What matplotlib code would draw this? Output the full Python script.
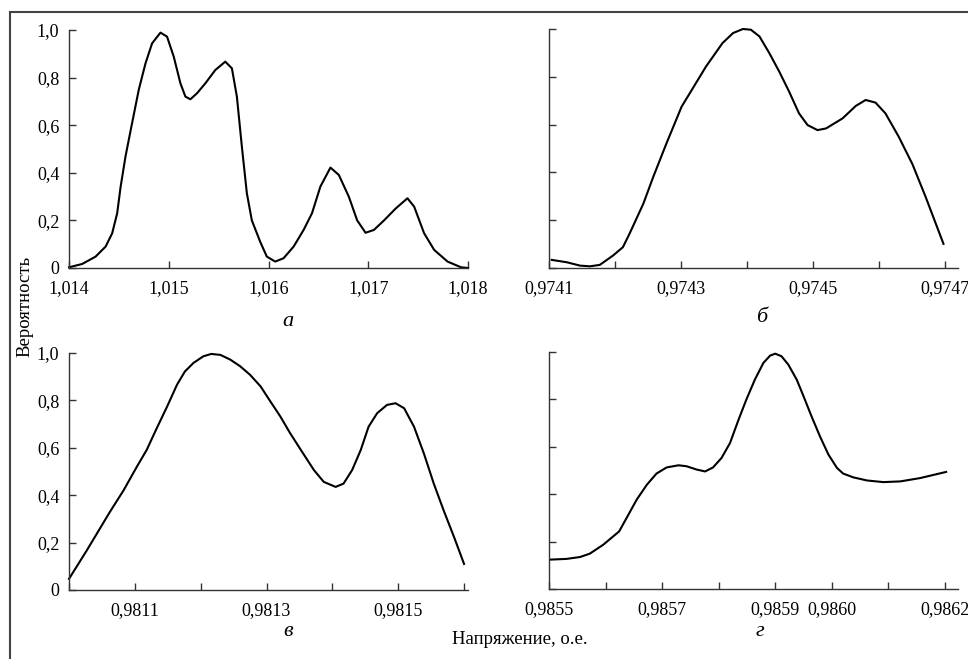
import matplotlib
matplotlib.use("Agg")
import matplotlib.pyplot as plt
from matplotlib.patches import Rectangle

plt.rcParams["font.family"] = "serif"
plt.rcParams["font.serif"] = ["Liberation Serif", "DejaVu Serif"]
plt.rcParams["font.size"] = 12.5

# panel a
x_a = [1.01400, 1.014133, 1.014267, 1.014367, 1.014433, 1.014483, 1.014517, 1.014567,
       1.014633, 1.014700, 1.014767, 1.014833, 1.014917, 1.014983, 1.015050, 1.015117,
       1.015167, 1.015217, 1.015283, 1.015367, 1.015467, 1.015567, 1.015633, 1.015683,
       1.015733, 1.015783, 1.015833, 1.015917, 1.015983, 1.016067, 1.016151, 1.016252,
       1.016352, 1.016436, 1.016520, 1.016621, 1.016705, 1.016805, 1.016889, 1.016973,
       1.017057, 1.017158, 1.017275, 1.017393, 1.017460, 1.017560, 1.017661, 1.017795,
       1.017930, 1.018]
y_a = [0.003, 0.017, 0.048, 0.09, 0.146, 0.23, 0.34, 0.47,
       0.61, 0.75, 0.86, 0.944, 0.989, 0.972, 0.888, 0.776,
       0.72, 0.709, 0.734, 0.776, 0.832, 0.867, 0.839, 0.72,
       0.51, 0.314, 0.20, 0.11, 0.048, 0.027, 0.041, 0.09,
       0.16, 0.23, 0.342, 0.422, 0.391, 0.30, 0.20, 0.148,
       0.16, 0.20, 0.25, 0.293, 0.258, 0.146, 0.076, 0.027,
       0.003, 0.0]

# panel б
x_b = [0.974104, 0.974127, 0.974147, 0.974162, 0.974177, 0.974197, 0.974212, 0.974222,
       0.974243, 0.974258, 0.974278, 0.974301, 0.974318, 0.974338, 0.974363, 0.974379,
       0.974394, 0.974406, 0.974419, 0.974434, 0.974449, 0.974464, 0.974479, 0.974492,
       0.974507, 0.974520, 0.974545, 0.974565, 0.974580, 0.974595, 0.974610, 0.974630,
       0.974651, 0.974671, 0.974698]
y_b = [0.034, 0.024, 0.010, 0.007, 0.013, 0.052, 0.087, 0.143,
       0.269, 0.381, 0.521, 0.675, 0.752, 0.843, 0.941, 0.983,
       1.0, 0.997, 0.969, 0.899, 0.822, 0.738, 0.647, 0.598,
       0.577, 0.584, 0.626, 0.678, 0.703, 0.692, 0.647, 0.55,
       0.434, 0.297, 0.101]

# panel в
x_v = [0.981000, 0.981027, 0.981062, 0.981083, 0.981103, 0.981118, 0.981133, 0.981149,
       0.981164, 0.981176, 0.981189, 0.981204, 0.981216, 0.981230, 0.981245, 0.981260,
       0.981275, 0.981291, 0.981306, 0.981321, 0.981336, 0.981354, 0.981372, 0.981387,
       0.981405, 0.981417, 0.981430, 0.981443, 0.981455, 0.981468, 0.981483, 0.981496,
       0.981509, 0.981524, 0.981539, 0.981554, 0.981569, 0.981585, 0.981600]
y_v = [0.047, 0.167, 0.329, 0.421, 0.52, 0.591, 0.681, 0.774,
       0.866, 0.922, 0.958, 0.986, 0.996, 0.992, 0.972, 0.944,
       0.908, 0.859, 0.795, 0.732, 0.661, 0.583, 0.506, 0.456,
       0.435, 0.449, 0.506, 0.59, 0.689, 0.746, 0.781, 0.788,
       0.767, 0.689, 0.576, 0.449, 0.336, 0.222, 0.11]

# panel г
x_g = [0.985502, 0.985531, 0.985555, 0.985572, 0.985596, 0.985624, 0.985637, 0.985655,
       0.985673, 0.985690, 0.985708, 0.985729, 0.985743, 0.985761, 0.985776, 0.985790,
       0.985805, 0.985820, 0.985835, 0.985849, 0.985864, 0.985879, 0.985891, 0.985900,
       0.985911, 0.985923, 0.985938, 0.985950, 0.985964, 0.985979, 0.985994, 0.986009,
       0.986020, 0.986038, 0.986062, 0.986091, 0.986121, 0.986156, 0.986202]
y_g = [0.124, 0.127, 0.135, 0.149, 0.187, 0.243, 0.299, 0.377,
       0.44, 0.487, 0.513, 0.522, 0.518, 0.504, 0.496, 0.513,
       0.553, 0.616, 0.714, 0.80, 0.884, 0.954, 0.985, 0.993,
       0.982, 0.947, 0.883, 0.813, 0.729, 0.644, 0.567, 0.511,
       0.487, 0.471, 0.458, 0.451, 0.454, 0.468, 0.494]

W, H = 968, 659
fig = plt.figure(figsize=(W / 100, H / 100), dpi=100)


def box(l, r, t, b):
    return [l / W, (H - b) / H, (r - l) / W, (b - t) / H]


def comma(v, nd):
    return f"{v:.{nd}f}".replace(".", ",")


panels = [
    (box(69, 468, 30, 268), x_a, y_a, (1.014, 1.018),
     [1.014, 1.015, 1.016, 1.017, 1.018], [1.014, 1.015, 1.016, 1.017, 1.018], 3, True, "а", (288, 322)),
    (box(549, 958, 29, 268), x_b, y_b, (0.9741, 0.97472),
     [0.9741 + i * 0.0001 for i in range(7)], [0.9741, 0.9743, 0.9745, 0.9747], 4, False, "б", (762, 318)),
    (box(69, 468, 353, 590), x_v, y_v, (0.9810, 0.981606),
     [0.9810 + i * 0.0001 for i in range(7)], [0.9811, 0.9813, 0.9815], 4, True, "в", (288, 632)),
    (box(549, 958, 352, 589), x_g, y_g, (0.9855, 0.986223),
     [0.9855 + i * 0.0001 for i in range(8)], [0.9855, 0.9857, 0.9859, 0.9860, 0.9862], 4, False, "г", (760, 632)),
]

for rect, xs, ys, xlim, ticks, labeled, nd, ylab, letter, pos in panels:
    ax = fig.add_axes(rect)
    ax.plot(xs, ys, color="black", lw=1.5, clip_on=False, solid_joinstyle="round")
    ax.set_xlim(*xlim)
    ax.set_ylim(0, 1.0)
    for s in ["top", "right"]:
        ax.spines[s].set_visible(False)
    for s in ["left", "bottom"]:
        ax.spines[s].set_color("#333333")
        ax.spines[s].set_linewidth(1.0)
    ax.set_xticks(ticks)
    ax.set_xticklabels([comma(t, nd) if any(abs(t - l) < 1e-8 for l in labeled) else "" for t in ticks])
    ax.set_yticks([0, 0.2, 0.4, 0.6, 0.8, 1.0])
    if ylab:
        ax.set_yticklabels(["0", "0,2", "0,4", "0,6", "0,8", "1,0"])
    else:
        ax.set_yticklabels([])
    ax.tick_params(direction="in", length=5, width=1.0, color="#333333", pad=7, labelsize=13)
    ax.tick_params(axis="x", pad=9)
    fig.text(pos[0] / W, 1 - pos[1] / H, letter, ha="center", va="center",
             fontsize=16, style="italic")

fig.text(25 / W, 1 - 306 / H, "Вероятность", rotation=90, ha="center", va="center", fontsize=13.5)
fig.text(520 / W, 1 - 640 / H, "Напряжение, о.е.", ha="center", va="center", fontsize=13.5)

# outer frame (left and top edges visible)
fig.patches.append(Rectangle((10 / W, -0.1), 1.2, 1 - 12 / H + 0.1, transform=fig.transFigure,
                             fill=False, edgecolor="#444444", lw=1.5))

fig.savefig("out.png", dpi=100)
